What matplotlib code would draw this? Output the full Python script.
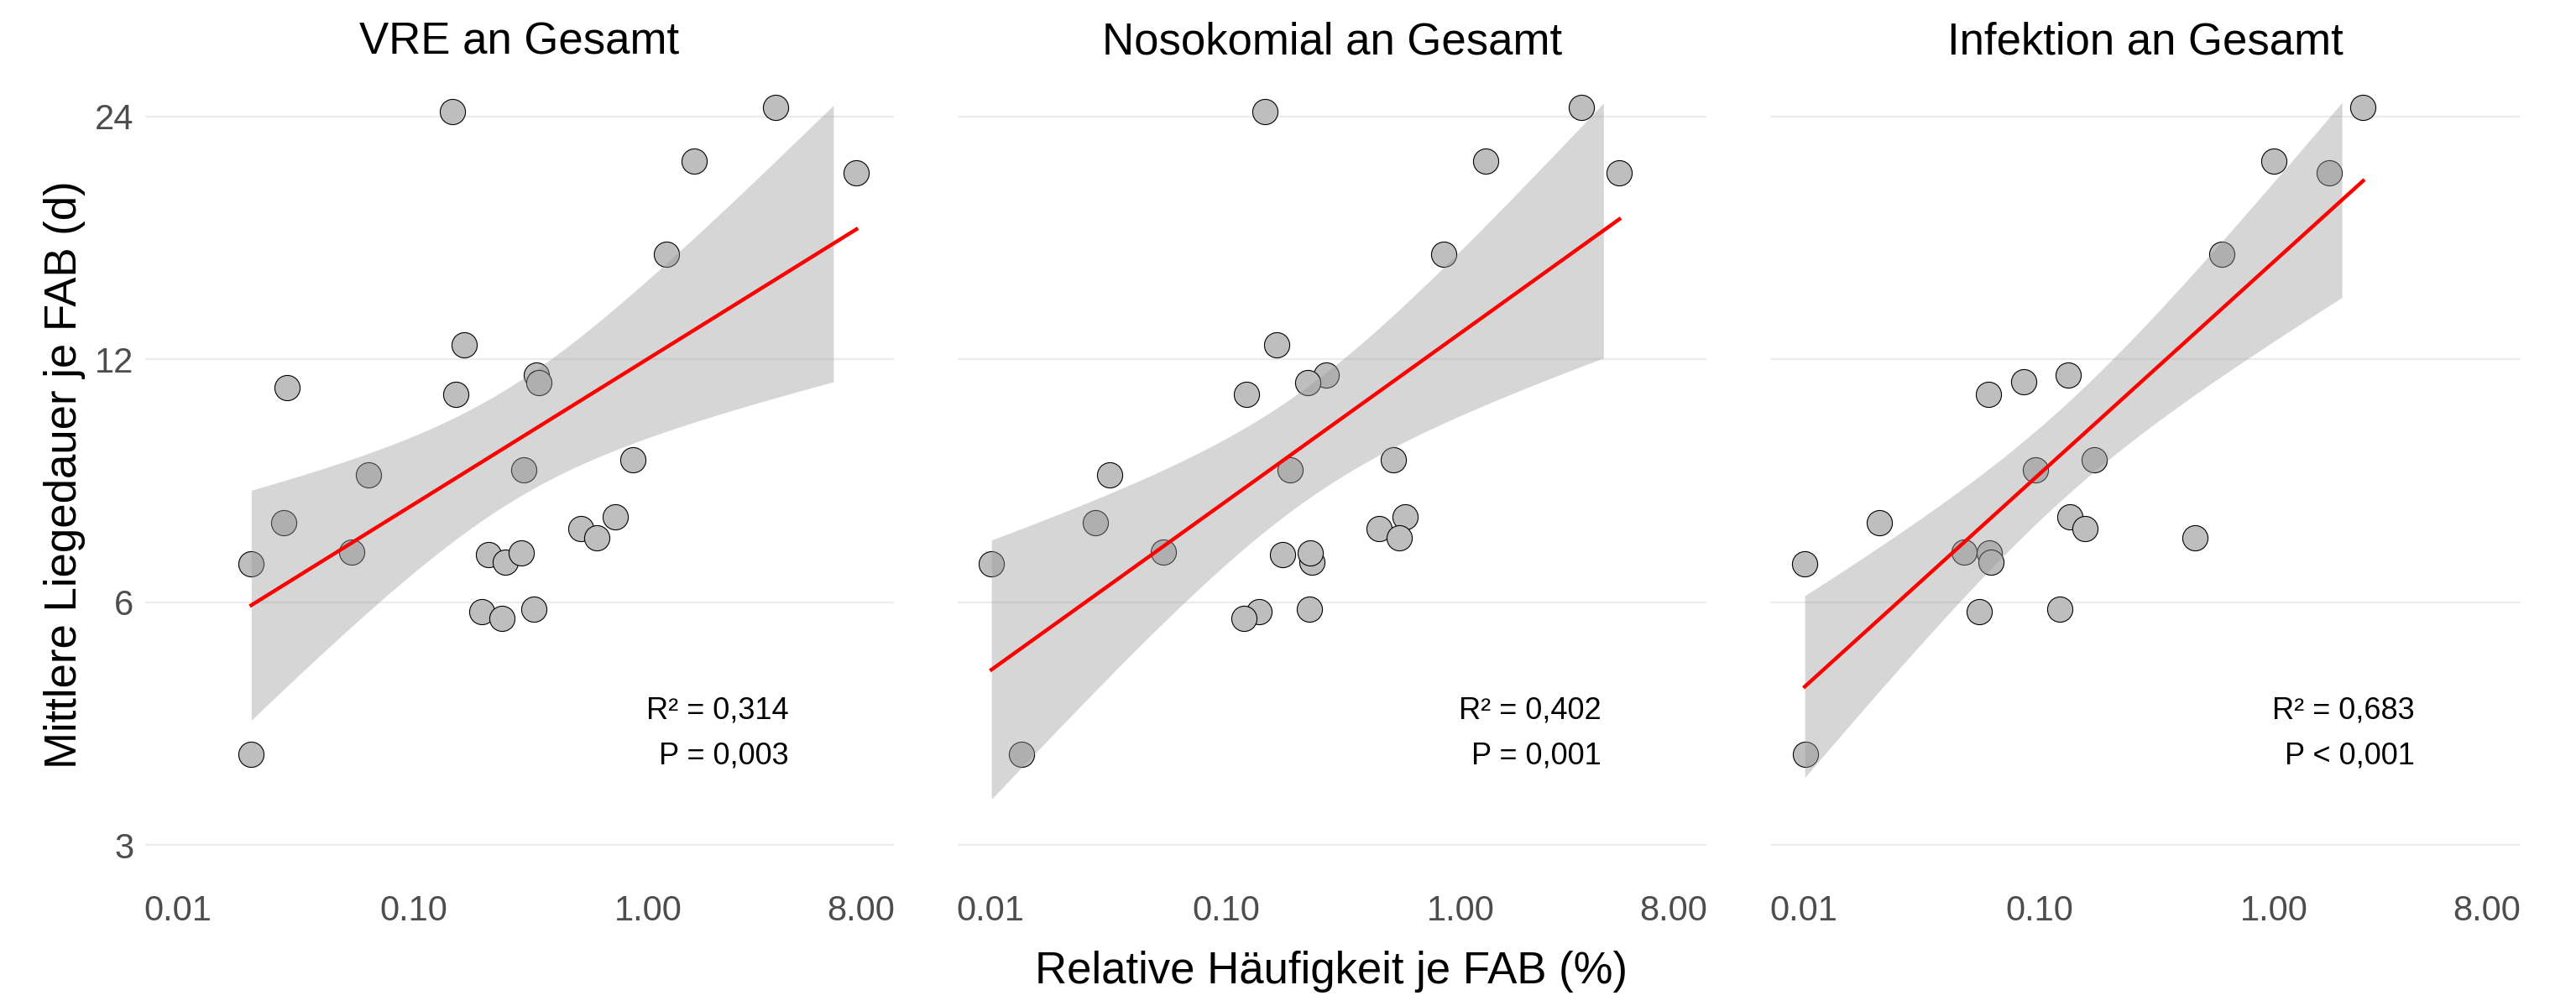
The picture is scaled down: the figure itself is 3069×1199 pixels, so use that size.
import numpy as np
import matplotlib
matplotlib.use('Agg')
import matplotlib.pyplot as plt
from matplotlib.ticker import NullLocator

plt.rcParams['font.family'] = ['Liberation Sans', 'DejaVu Sans']

# data (x: relative frequency in %, y: mean length of stay in days)
titles = ['VRE an Gesamt', 'Nosokomial an Gesamt', 'Infektion an Gesamt']

x_vre = [0.147, 3.47, 1.557, 7.63, 1.195, 0.164, 0.0292, 0.152, 0.333, 0.343, 0.0646, 0.295, 0.856,
         0.0282, 0.724, 0.513, 0.603, 0.0205, 0.0546, 0.209, 0.247, 0.287, 0.195, 0.238, 0.325, 0.0205]
y_vre = [24.3, 24.6, 21.1, 20.4, 16.2, 12.5, 11.08, 10.85, 11.46, 11.22, 8.62, 8.76, 9.0,
         7.52, 7.66, 7.41, 7.21, 6.70, 6.92, 6.88, 6.72, 6.90, 5.84, 5.73, 5.89, 3.89]

x_noso = [0.147, 3.24, 1.27, 4.70, 0.841, 0.164, 0.267, 0.223, 0.122, 0.0321, 0.187, 0.516, 0.0279,
          0.577, 0.448, 0.544, 0.0101, 0.0545, 0.174, 0.233, 0.229, 0.139, 0.119, 0.226, 0.0135]
y_noso = [24.3, 24.6, 21.1, 20.4, 16.2, 12.5, 11.46, 11.22, 10.85, 8.62, 8.76, 9.0, 7.52,
          7.66, 7.41, 7.21, 6.70, 6.92, 6.88, 6.72, 6.90, 5.84, 5.73, 5.89, 3.89]

x_inf = [2.38, 0.995, 1.71, 0.598, 0.133, 0.0857, 0.0608, 0.171, 0.0964, 0.0209, 0.135, 0.157,
         0.461, 0.0101, 0.0479, 0.0615, 0.0625, 0.0556, 0.122, 0.0102]
y_inf = [24.6, 21.1, 20.4, 16.2, 11.48, 11.25, 10.85, 9.0, 8.76, 7.52, 7.66, 7.41,
         7.21, 6.70, 6.92, 6.90, 6.72, 5.84, 5.89, 3.89]

r2_labels = ['R² = 0,314', 'R² = 0,402', 'R² = 0,683']
p_labels = ['P = 0,003', 'P = 0,001', 'P < 0,001']

x_ticks = [0.01, 0.1, 1, 8]
x_ticklabels = ['0.01', '0.10', '1.00', '8.00']
y_ticks = [3, 6, 12, 24]
y_ticklabels = ['3', '6', '12', '24']

y_top = 25  # ribbon parts above this are dropped (like ggplot out-of-bounds)
t975 = {18: 2.1009, 23: 2.0687, 24: 2.0639}

xs = [x_vre, x_noso, x_inf]
ys = [y_vre, y_noso, y_inf]

fig = plt.figure(figsize=(30.69, 11.99), dpi=100)

W = 3069.0
H = 1199.0
lefts = [173, 1141, 2110]
ax_w = 892
top_px = 98
bot_px = 1048

for i in range(3):
    ax = fig.add_axes([lefts[i] / W, (H - bot_px) / H, ax_w / W, (bot_px - top_px) / H])
    x = np.array(xs[i])
    y = np.array(ys[i])

    ax.scatter(x, y, s=470, facecolor='#BEBEBE', edgecolor='black', linewidth=0.8, zorder=3)

    # linear fit in log-log space with 95% confidence band
    lx = np.log10(x)
    ly = np.log10(y)
    n = len(lx)
    b, a = np.polyfit(lx, ly, 1)
    resid = ly - (a + b * lx)
    s = np.sqrt(np.sum(resid**2) / (n - 2))
    sxx = np.sum((lx - lx.mean())**2)
    gx = np.linspace(lx.min(), lx.max(), 80)
    gy = a + b * gx
    se = s * np.sqrt(1.0 / n + (gx - lx.mean())**2 / sxx)
    lo = 10**(gy - t975[n - 2] * se)
    hi = 10**(gy + t975[n - 2] * se)
    keep = hi <= y_top
    ax.fill_between(10**gx, lo, hi, where=keep, color='#999999', alpha=0.4, linewidth=0, zorder=4)
    ax.plot(10**gx, 10**gy, color='#FF0000', lw=3.2, zorder=5)

    ax.set_xscale('log')
    ax.set_yscale('log', base=2)
    ax.set_xlim(0.01 / 10**0.139, 8 * 10**0.139)
    ax.set_ylim(3 / 2**0.14, 24 * 2**0.14)
    ax.set_xticks(x_ticks)
    ax.set_xticklabels(x_ticklabels)
    ax.set_yticks(y_ticks)
    ax.set_yticklabels(y_ticklabels)
    ax.xaxis.set_minor_locator(NullLocator())
    ax.yaxis.set_minor_locator(NullLocator())
    ax.tick_params(axis='both', length=0, labelsize=30, labelcolor='#4D4D4D')
    ax.tick_params(axis='x', pad=13)
    ax.tick_params(axis='y', pad=10)
    if i > 0:
        ax.tick_params(axis='y', labelleft=False)
    for sp in ax.spines.values():
        sp.set_visible(False)
    ax.yaxis.grid(True, color='#EBEBEB', lw=1.6, zorder=0)
    ax.xaxis.grid(False)
    ax.set_axisbelow(True)

    ax.set_title(titles[i], fontsize=38, pad=24)
    ax.text(0.860, 0.202, r2_labels[i], transform=ax.transAxes, ha='right', va='baseline', fontsize=26)
    ax.text(0.860, 0.145, p_labels[i], transform=ax.transAxes, ha='right', va='baseline', fontsize=26)

fig.text(77 / W, (H - 566) / H, 'Mittlere Liegedauer je FAB (d)', rotation=90,
         ha='center', va='center', fontsize=38)
fig.text(1586 / W, (H - 1172) / H, 'Relative Häufigkeit je FAB (%)',
         ha='center', va='baseline', fontsize=38)

fig.savefig('out.png', dpi=100)
